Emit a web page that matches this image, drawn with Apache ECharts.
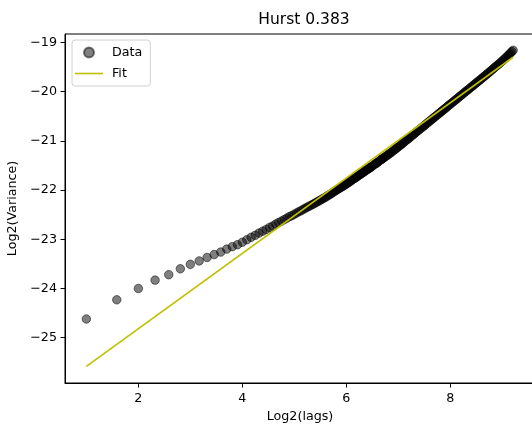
<!DOCTYPE html>
<html>
<head>
<meta charset="utf-8">
<script src="https://cdn.jsdelivr.net/npm/echarts@6/dist/echarts.min.js"></script>
<style>
html,body{margin:0;padding:0;background:#fff;}
#chart{width:532px;height:425px;}
</style>
</head>
<body>
<div id="chart"></div>
<script>
// lags (x is drawn as log2 of lag)
const lags = [2,3,4,5,6,7,8,9,10,11,12,13,14,15,16,17,18,19,20,21,22,23,24,25,26,27,28,29,30,31,
  32,34,35,37,38,40,41,43,45,46,48,50,52,54,56,58,60,62,65,67,70,72,75,78,81,84,87,90,94,97,
  101,104,108,112,116,121,125,130,135,140,145,150,156,161,167,174,180,187,193,201,208,216,224,232,240,249,
  258,268,278,288,299,310,321,333,345,358,371,385,399,414,429,445,461,478,496,514,533,553,573,592];
// log2(variance)
const log2Variance = [-24.62,-24.23,-24.00,-23.83,-23.72,-23.60,-23.51,-23.44,-23.37,-23.31,-23.26,-23.20,-23.15,-23.11,-23.06,
  -23.01,-22.96,-22.92,-22.875,-22.835,-22.80,-22.76,-22.73,-22.69,-22.66,-22.63,-22.60,-22.57,-22.54,-22.52,
  -22.49,-22.44,-22.42,-22.37,-22.35,-22.31,-22.29,-22.25,-22.21,-22.19,-22.155,-22.115,-22.08,-22.04,-22.005,-21.97,-21.94,-21.91,
  -21.86,-21.83,-21.78,-21.755,-21.71,-21.67,-21.63,-21.59,-21.556,-21.52,-21.47,-21.44,-21.39,-21.36,-21.32,-21.28,-21.24,
  -21.19,-21.15,-21.105,-21.06,-21.01,-20.97,-20.925,-20.876,-20.836,-20.79,-20.74,-20.70,-20.65,-20.61,-20.56,-20.517,-20.47,
  -20.425,-20.38,-20.34,-20.29,-20.248,-20.20,-20.154,-20.11,-20.064,-20.018,-19.975,-19.929,-19.885,-19.839,-19.794,-19.747,
  -19.703,-19.657,-19.61,-19.562,-19.516,-19.469,-19.422,-19.374,-19.322,-19.267,-19.213,-19.162];
// more lags of the dense part of the curve
const lagsDense = [33,36,39,42,44,47,49,51,53,55,57,59,61,63,64,66,68,69,71,73,74,76,77,79,80,82,83,85,86,88,89,
  92,95,96,99,102,103,106,110,114,118,123,127,132,137,142,147,153,158,164,170,177,183,190,197,204,212,220,228,236,244,
  253,263,273,283,293,304,315,327,339,351,364,378,392,406,421,437,453,469,487,505,523,543,563,582];
const log2VarianceDense = [-22.465,-22.395,-22.33,-22.27,-22.23,-22.172,-22.135,-22.097,-22.06,-22.022,-21.987,-21.955,-21.925,
  -21.893,-21.876,-21.845,-21.813,-21.796,-21.768,-21.74,-21.725,-21.696,-21.683,-21.656,-21.643,-21.616,-21.603,-21.579,-21.567,
  -21.544,-21.532,-21.495,-21.46,-21.45,-21.415,-21.38,-21.37,-21.34,-21.30,-21.26,-21.22,-21.17,-21.132,-21.087,-21.04,-20.99,
  -20.952,-20.90,-20.86,-20.813,-20.768,-20.72,-20.678,-20.63,-20.585,-20.54,-20.493,-20.447,-20.402,-20.36,-20.316,
  -20.27,-20.224,-20.177,-20.132,-20.087,-20.041,-19.996,-19.952,-19.907,-19.862,-19.816,-19.77,-19.725,-19.68,-19.633,
  -19.586,-19.539,-19.492,-19.445,-19.398,-19.348,-19.294,-19.24,-19.187];
// fit line end points (log2 lag, log2 variance)
const fitX = [1, 9.209];
const fitY = [-25.582, -19.302];
const xTicks = [2,4,6,8];
const yTicks = [-25,-24,-23,-22,-21,-20,-19];
const titleText = 'Hurst 0.383';

const FONT = 'DejaVu Sans';
const scatterData = lags.map((l,i)=>[Math.log2(l), log2Variance[i]])
  .concat(lagsDense.map((l,i)=>[Math.log2(l), log2VarianceDense[i]]));
const fitData = fitX.map((x,i)=>[x, fitY[i]]);
const minus = v => String(v).replace('-', '\u2212');

const chart = echarts.init(document.getElementById('chart'), null, {renderer:'canvas'});
chart.setOption({
  animation:false,
  backgroundColor:'#fff',
  textStyle:{fontFamily:FONT},
  title:{text:titleText,left:299,top:7,textAlign:'center',
    textStyle:{fontFamily:FONT,fontSize:15.5,fontWeight:'normal',color:'#000'}},
  legend:{
    orient:'vertical',left:72,top:40,
    symbolKeepAspect:true,
    data:[{name:'Data',icon:'circle'},{name:'Fit',icon:'path://M0,0L28,0L28,1.6L0,1.6Z'}],
    itemWidth:28,itemHeight:10,itemGap:8,
    padding:[6,8,6,3],
    borderColor:'#d0d0d0',borderWidth:1,borderRadius:3,
    backgroundColor:'rgba(255,255,255,0.8)',
    textStyle:{fontFamily:FONT,fontSize:12.7,color:'#000',padding:[0,0,0,4]}
  },
  grid:{left:65,top:34,right:-3,bottom:42,show:true,borderColor:'#000',borderWidth:1,
    backgroundColor:'transparent',containLabel:false,outerBoundsMode:'none'},
  xAxis:{
    type:'value',min:0.589,max:9.63,
    name:'Log2(lags)',nameLocation:'middle',nameGap:18,
    nameTextStyle:{fontFamily:FONT,fontSize:12.7,color:'#000'},
    axisLine:{show:true,onZero:false,lineStyle:{color:'#000',width:1}},
    axisTick:{show:true,inside:false,length:4.5,lineStyle:{color:'#000'},customValues:xTicks},
    axisLabel:{margin:9,fontFamily:FONT,fontSize:12.7,color:'#000',customValues:xTicks,formatter:minus},
    splitLine:{show:false}
  },
  yAxis:{
    type:'value',min:-25.92,max:-18.83,
    name:'Log2(Variance)',nameLocation:'middle',nameGap:37,nameRotate:90,
    nameTextStyle:{fontFamily:FONT,fontSize:12.7,color:'#000'},
    axisLine:{show:true,onZero:false,lineStyle:{color:'#000',width:1}},
    axisTick:{show:true,inside:false,length:4.5,lineStyle:{color:'#000'},customValues:yTicks},
    axisLabel:{margin:8,fontFamily:FONT,fontSize:12.7,color:'#000',customValues:yTicks,formatter:minus},
    splitLine:{show:false}
  },
  series:[
    {name:'Data',type:'scatter',data:scatterData,symbol:'circle',symbolSize:8.5,
      itemStyle:{color:'rgba(0,0,0,0.5)',borderColor:'rgba(0,0,0,0.5)',borderWidth:1,opacity:1},
      emphasis:{disabled:true},z:2},
    {name:'Fit',type:'line',data:fitData,symbol:'none',showSymbol:false,
      lineStyle:{color:'#bfbf00',width:1.6},itemStyle:{color:'#bfbf00'},
      emphasis:{disabled:true},z:3}
  ]
});
</script>
</body>
</html>
